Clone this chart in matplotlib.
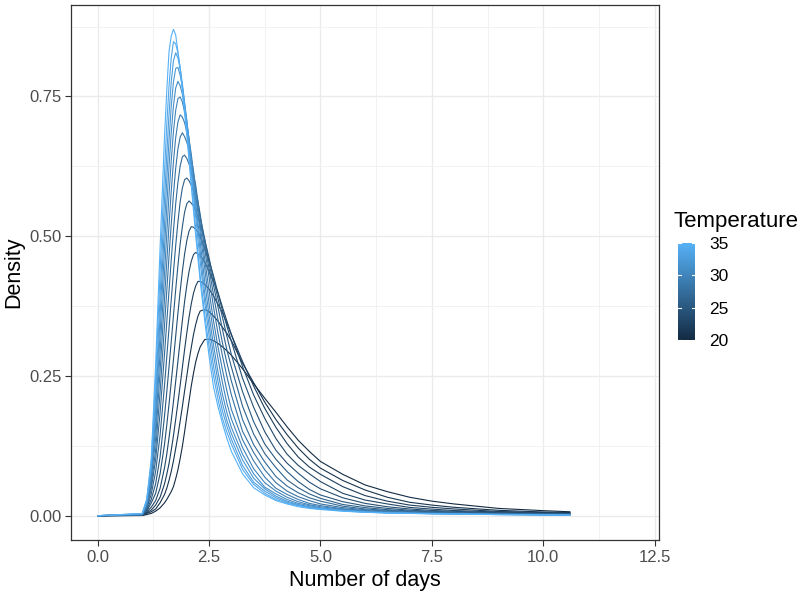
import matplotlib
matplotlib.use("Agg")
import matplotlib.pyplot as plt
import numpy as np
from matplotlib.colors import LinearSegmentedColormap, Normalize
from matplotlib.cm import ScalarMappable

plt.rcParams['font.family'] = ['Liberation Sans', 'DejaVu Sans']

# development time densities, one curve per temperature
temperature = [20, 21, 22, 23, 24, 25, 26, 27, 28, 29, 30, 31, 32, 33, 34, 35]

days = [0.0, 1.0, 1.1, 1.2, 1.3, 1.4, 1.5, 1.55, 1.6, 1.65, 1.7, 1.75, 1.8,
        1.85, 1.9, 1.95, 2.0, 2.05, 2.1, 2.15, 2.2, 2.25, 2.3, 2.4, 2.5, 2.6,
        2.7, 2.8, 2.9, 3.0, 3.25, 3.5, 3.75, 4.0, 4.25, 4.5, 4.75, 5.0, 5.5,
        6.0, 6.5, 7.0, 7.5, 8.0, 9.0, 10.0, 10.6]

density = [
    [0, .0003, .002, .004, .008, .014, .023, .029, .036, .043, .052, .066, .082, .102, .124, .150,
     .178, .205, .232, .255, .275, .290, .302, .315, .316, .313, .308, .302, .295, .287, .263, .236,
     .210, .185, .159, .135, .115, .097, .074, .055, .043, .033, .026, .021, .013, .009, .007],
    [0, .0004, .004, .007, .012, .023, .038, .049, .063, .079, .098, .120, .143, .169, .195, .223,
     .250, .277, .301, .324, .342, .357, .366, .369, .365, .357, .348, .337, .326, .313, .273, .238,
     .203, .172, .145, .121, .101, .085, .063, .046, .033, .024, .019, .015, .0096, .0066, .0057],
    [0, .0005, .005, .010, .019, .033, .057, .074, .093, .117, .143, .172, .202, .233, .265, .297,
     .327, .355, .379, .398, .411, .419, .419, .414, .405, .393, .378, .363, .344, .324, .276, .232,
     .192, .158, .129, .105, .087, .074, .052, .036, .026, .019, .015, .012, .0075, .0056, .0047],
    [0, .0006, .0065, .015, .027, .049, .086, .110, .139, .170, .204, .240, .276, .313, .349, .383,
     .412, .437, .455, .467, .471, .468, .465, .454, .437, .419, .399, .373, .348, .324, .267, .216,
     .174, .138, .110, .090, .075, .061, .040, .028, .021, .0148, .0118, .0092, .0065, .0047, .0037],
    [0, .0008, .008, .0225, .040, .075, .128, .162, .199, .239, .279, .321, .362, .401, .437, .468,
     .492, .509, .517, .516, .512, .507, .499, .478, .456, .429, .398, .367, .339, .312, .246, .194,
     .150, .117, .094, .076, .060, .048, .032, .022, .016, .012, .0093, .0078, .0053, .0038, .0032],
    [0, .001, .010, .029, .057, .105, .179, .221, .266, .311, .358, .404, .447, .486, .517, .543,
     .558, .563, .559, .554, .544, .535, .520, .494, .461, .423, .388, .355, .321, .288, .222, .168,
     .128, .101, .079, .061, .047, .037, .025, .0175, .013, .0098, .0079, .0065, .0044, .0033, .0029],
    [0, .0012, .012, .038, .079, .144, .234, .284, .335, .386, .436, .483, .525, .561, .586, .601,
     .604, .599, .591, .580, .567, .550, .534, .496, .452, .412, .373, .333, .296, .266, .196, .146,
     .111, .086, .064, .050, .039, .031, .020, .0145, .0107, .0085, .0068, .0054, .0038, .003, .0026],
    [0, .0015, .014, .048, .100, .184, .290, .346, .402, .457, .510, .558, .596, .625, .642, .645,
     .639, .629, .617, .598, .580, .562, .539, .488, .441, .395, .350, .309, .273, .241, .172, .127,
     .096, .070, .053, .041, .032, .026, .017, .012, .0094, .0073, .0057, .0047, .0035, .0027, .0023],
    [0, .0018, .016, .055, .117, .221, .341, .402, .464, .521, .575, .621, .656, .677, .685, .678,
     .668, .653, .631, .611, .591, .562, .533, .477, .426, .373, .326, .286, .249, .216, .151, .113,
     .082, .059, .044, .034, .027, .021, .0144, .0107, .0081, .0063, .005, .0041, .0032, .0024, .002],
    [0, .0021, .018, .064, .138, .258, .389, .454, .519, .580, .633, .676, .704, .717, .713, .703,
     .686, .663, .640, .617, .584, .551, .518, .460, .402, .348, .302, .261, .223, .190, .136, .098,
     .069, .049, .038, .029, .022, .018, .0124, .0093, .0071, .0055, .0044, .0038, .0029, .0021, .0017],
    [0, .0024, .020, .071, .158, .292, .434, .505, .573, .635, .687, .725, .746, .749, .740, .722,
     .700, .673, .647, .612, .575, .540, .507, .443, .379, .327, .281, .238, .201, .173, .122, .084,
     .059, .044, .033, .025, .0195, .016, .0114, .0083, .0061, .0049, .0041, .0036, .0026, .0018, .0016],
    [0, .0027, .022, .076, .176, .326, .479, .553, .624, .685, .733, .765, .777, .769, .754, .730,
     .702, .674, .637, .598, .559, .524, .490, .420, .358, .305, .257, .217, .184, .158, .110, .075,
     .051, .039, .029, .022, .018, .014, .0104, .0076, .0057, .0046, .004, .0034, .0024, .0017, .0015],
    [0, .003, .024, .081, .192, .359, .521, .600, .671, .732, .776, .800, .802, .788, .768, .737,
     .707, .671, .629, .586, .548, .511, .473, .399, .340, .287, .240, .201, .170, .147, .100, .067,
     .048, .035, .026, .020, .016, .0133, .0095, .0068, .0054, .0044, .0038, .0031, .0022, .0016, .0014],
    [0, .0034, .026, .085, .216, .393, .567, .646, .718, .776, .814, .828, .819, .800, .773, .739,
     .705, .661, .615, .574, .534, .494, .454, .383, .322, .267, .223, .187, .160, .137, .090, .060,
     .044, .032, .024, .019, .0149, .0127, .0091, .0065, .005, .0043, .0036, .003, .002, .0016, .0013],
    [0, .0037, .028, .094, .245, .436, .616, .700, .768, .819, .848, .844, .828, .802, .767, .735,
     .689, .642, .597, .555, .513, .470, .429, .362, .302, .250, .208, .174, .149, .128, .083, .056,
     .040, .029, .022, .018, .0142, .0121, .0085, .0062, .0049, .0042, .0034, .0029, .002, .0015, .0013],
    [0, .004, .030, .100, .270, .480, .680, .760, .830, .858, .870, .860, .830, .800, .760, .720,
     .680, .635, .590, .545, .500, .460, .420, .350, .285, .230, .195, .165, .138, .115, .075, .050,
     .037, .027, .021, .016, .013, .011, .008, .006, .005, .004, .0035, .003, .002, .0015, .001],
]

xticks = [0, 2.5, 5, 7.5, 10, 12.5]
xticklabels = ["0.0", "2.5", "5.0", "7.5", "10.0", "12.5"]
yticks = [0, 0.25, 0.5, 0.75]
yticklabels = ["0.00", "0.25", "0.50", "0.75"]
legend_ticks = [20, 25, 30, 35]

# ggplot's default continuous colour scale
cmap = LinearSegmentedColormap.from_list("temp", ["#132B43", "#56B1F7"])
norm = Normalize(vmin=20, vmax=35)

W, H = 801, 594
fig = plt.figure(figsize=(W / 100, H / 100), dpi=100)
ax = fig.add_axes([71 / W, 1 - 540 / H, (659 - 71) / W, (540 - 5) / H])

for t, y in zip(temperature, density):
    ax.plot(days, y, color=cmap(norm(t)), lw=0.8, solid_joinstyle='round')

ax.set_xlim(-0.6, 12.6)
ax.set_ylim(-0.0435, 0.9135)
ax.set_xticks(xticks)
ax.set_xticklabels(xticklabels)
ax.set_yticks(yticks)
ax.set_yticklabels(yticklabels)
ax.set_xticks(np.arange(1.25, 12.5, 2.5), minor=True)
ax.set_yticks([0.125, 0.375, 0.625, 0.875], minor=True)

ax.set_axisbelow(True)
ax.grid(which='major', color='#EBEBEB', lw=1.0)
ax.grid(which='minor', color='#F2F2F2', lw=0.7)
ax.tick_params(which='minor', length=0)
ax.tick_params(which='major', length=4, width=0.8, color='#333333',
               labelcolor='#4D4D4D', labelsize=12, pad=3)
for s in ax.spines.values():
    s.set_color('#333333')
    s.set_linewidth(0.9)

ax.set_xlabel("Number of days", fontsize=15.5, color='black', labelpad=4)
ax.set_ylabel("Density", fontsize=15.5, color='black', labelpad=3)

# colourbar legend
cax = fig.add_axes([678 / W, 1 - 340 / H, 17 / W, 97 / H])
cb = fig.colorbar(ScalarMappable(norm=norm, cmap=cmap), cax=cax)
cb.outline.set_visible(False)
cb.set_ticks(legend_ticks)
cax.tick_params(length=0, labelsize=12.5, pad=10, labelcolor='black')
for t in legend_ticks:
    cax.plot([0, 0.2], [t, t], color='white', lw=0.8, transform=cax.get_yaxis_transform())
    cax.plot([0.8, 1.0], [t, t], color='white', lw=0.8, transform=cax.get_yaxis_transform())
fig.text(673 / W, 1 - 222 / H, "Temperature", fontsize=16, va='center', ha='left')

fig.savefig("out.png", dpi=100)
